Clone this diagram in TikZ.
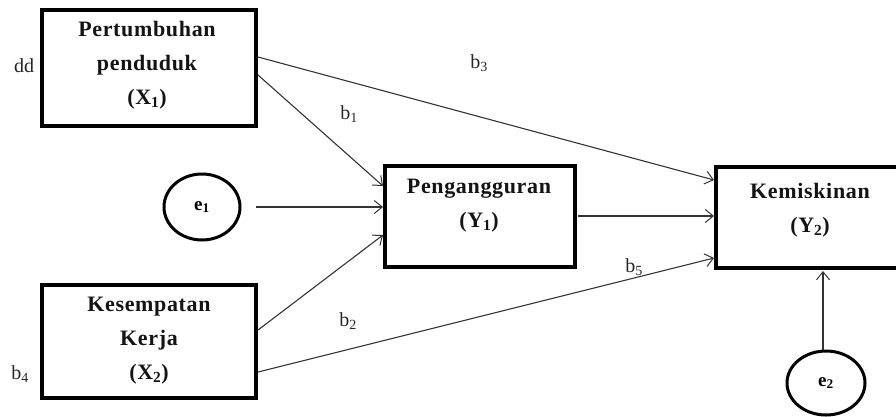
\documentclass[tikz,border=0pt]{standalone}
\usepackage{fontspec}
\setmainfont{Liberation Serif}
\newfontfamily\boxfont[LetterSpace=3]{Liberation Serif}
\usetikzlibrary{arrows.meta,shapes.geometric}
\begin{document}
\begin{tikzpicture}[x=1pt,y=-1pt,
  varbox/.style={draw=black,line width=4pt,rectangle,inner sep=0pt},
  errnode/.style={draw=black,line width=3pt,ellipse,inner sep=0pt},
  boxtxt/.style={align=center,text=black!92,font=\boxfont\bfseries\fontsize{22}{34}\selectfont,inner sep=0pt},
  lbl/.style={text=black!85,font=\fontsize{20}{20}\selectfont,inner sep=0pt},
  path/.style={line width=1.1pt,draw=black!80,-{Straight Barb[length=8pt,width=13pt,line width=1pt]}}
]
\useasboundingbox (0,0) rectangle (896,416);
% boxes
\node[varbox,minimum width=214pt,minimum height=116pt] (x1) at (149,68) {};
\node[varbox,minimum width=214pt,minimum height=113pt] (x2) at (149,341.5) {};
\node[varbox,minimum width=190pt,minimum height=101pt] (y1) at (480,216.5) {};
\node[varbox,minimum width=190pt,minimum height=101pt] (y2) at (811,217.5) {};
% texts
\node[boxtxt] (x1t) at (147,65) {Pertumbuhan\\penduduk\\(X\textsubscript{1})};
\node[boxtxt] (x2t) at (149,341) {Kesempatan\\Kerja\\(X\textsubscript{2})};
\node[boxtxt] (y1t) at (479,206) {Pengangguran\\(Y\textsubscript{1})};
\node[boxtxt] (y2t) at (810,210) {Kemiskinan\\(Y\textsubscript{2})};
% error terms
\node[errnode,minimum width=76pt,minimum height=66pt] (e1) at (202,207) {\bfseries\fontsize{19}{19}\selectfont e\textsubscript{1}};
\node[errnode,minimum width=78pt,minimum height=64pt] (e2) at (826,383) {\bfseries\fontsize{19}{19}\selectfont e\textsubscript{2}};
% coordinates
\coordinate (x1a) at (258,57);
\coordinate (x1b) at (258,75);
\coordinate (x2a) at (258,330);
\coordinate (x2b) at (258,372);
\coordinate (y2a) at (714,180);
\coordinate (y2b) at (714,216);
\coordinate (y2c) at (714,258);
\coordinate (y1a) at (383,186);
\coordinate (y1b) at (383,207);
\coordinate (y1c) at (383,235);
\coordinate (e1r) at (256,207);
\coordinate (e2t) at (823,350);
\coordinate (y2bot) at (823,271);
\coordinate (y1r) at (578,216);
% connectors
\draw[path] (x1a) -- (y2a);
\draw[path] (x1b) -- (y1a);
\draw[path] (e1r) -- (y1b);
\draw[path] (x2a) -- (y1c);
\draw[path] (x2b) -- (y2c);
\draw[path] (y1r) -- (y2b);
\draw[path] (e2t) -- (y2bot);
% labels
\node[lbl] (ldd) at (24,66) {dd};
\node[lbl] (lb3) at (479,63) {b\textsubscript{3}};
\node[lbl] (lb1) at (349,114) {b\textsubscript{1}};
\node[lbl] (lb2) at (348,321) {b\textsubscript{2}};
\node[lbl] (lb5) at (634,267) {b\textsubscript{5}};
\node[lbl] (lb4) at (20,374) {b\textsubscript{4}};
\end{tikzpicture}
\end{document}
